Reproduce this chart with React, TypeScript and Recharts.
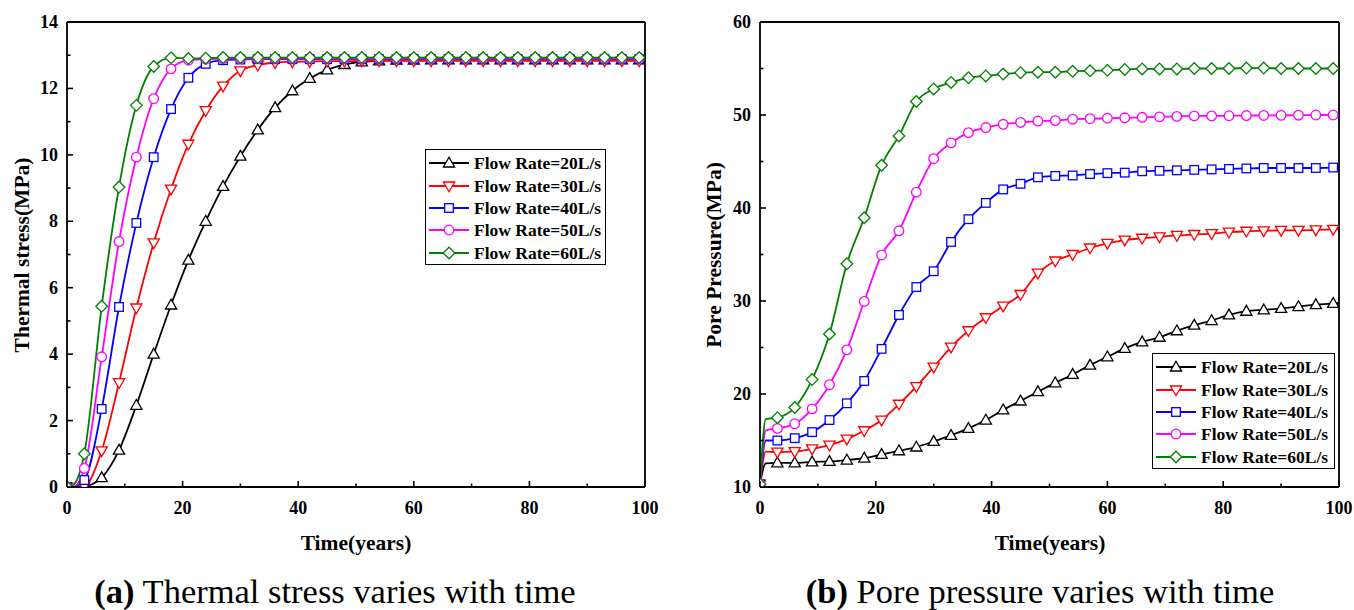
import React from 'react';
import { LineChart, Line, XAxis, YAxis, Legend } from 'recharts';

const FONT = '"Liberation Serif", "Times New Roman", Times, serif';

// ---- data ----
const years = [0, 1, 3, 6, 9, 12, 15, 18, 21, 24, 27, 30, 33, 36, 39, 42, 45, 48, 51, 54, 57, 60, 63, 66, 69, 72, 75, 78, 81, 84, 87, 90, 93, 96, 99, 100];

const seriesNames = ['Flow Rate=20L/s', 'Flow Rate=30L/s', 'Flow Rate=40L/s', 'Flow Rate=50L/s', 'Flow Rate=60L/s'];

// (a) Thermal stress (MPa)
const thermal20 = [0, 0, 0.02, 0.28, 1.11, 2.46, 4.0, 5.48, 6.83, 8.0, 9.05, 9.96, 10.75, 11.42, 11.93, 12.3, 12.56, 12.72, 12.8, 12.83, 12.85, 12.85, 12.86, 12.86, 12.86, 12.86, 12.86, 12.86, 12.86, 12.86, 12.86, 12.86, 12.86, 12.86, 12.86, 12.86];
const thermal30 = [0, 0, 0.03, 1.09, 3.14, 5.39, 7.35, 8.97, 10.32, 11.33, 12.07, 12.53, 12.7, 12.78, 12.8, 12.81, 12.82, 12.82, 12.83, 12.83, 12.83, 12.83, 12.83, 12.83, 12.83, 12.83, 12.83, 12.83, 12.83, 12.83, 12.83, 12.83, 12.83, 12.83, 12.83, 12.83];
const thermal40 = [0, 0, 0.21, 2.35, 5.42, 7.95, 9.93, 11.38, 12.32, 12.74, 12.85, 12.87, 12.88, 12.88, 12.88, 12.88, 12.88, 12.88, 12.88, 12.88, 12.88, 12.88, 12.88, 12.88, 12.88, 12.88, 12.88, 12.88, 12.88, 12.88, 12.88, 12.88, 12.88, 12.88, 12.88, 12.88];
const thermal50 = [0, 0, 0.56, 3.92, 7.39, 9.93, 11.69, 12.59, 12.85, 12.88, 12.9, 12.9, 12.9, 12.9, 12.9, 12.9, 12.9, 12.9, 12.9, 12.9, 12.9, 12.9, 12.9, 12.9, 12.9, 12.9, 12.9, 12.9, 12.9, 12.9, 12.9, 12.9, 12.9, 12.9, 12.9, 12.9];
const thermal60 = [0, 0.05, 1.0, 5.44, 9.03, 11.49, 12.66, 12.92, 12.9, 12.91, 12.93, 12.93, 12.93, 12.93, 12.93, 12.93, 12.93, 12.93, 12.93, 12.93, 12.93, 12.93, 12.93, 12.93, 12.93, 12.93, 12.93, 12.93, 12.93, 12.93, 12.93, 12.93, 12.93, 12.93, 12.93, 12.93];

// (b) Pore pressure (MPa)
const pore20 = [10.3, 12.55, 12.6, 12.6, 12.7, 12.75, 12.9, 13.1, 13.5, 13.9, 14.3, 14.9, 15.55, 16.3, 17.2, 18.3, 19.25, 20.25, 21.2, 22.1, 23.1, 24.0, 24.9, 25.6, 26.1, 26.8, 27.4, 27.9, 28.5, 28.9, 29.05, 29.2, 29.4, 29.6, 29.75, 29.8];
const pore30 = [10.3, 13.8, 13.75, 13.8, 14.1, 14.5, 15.15, 16.05, 17.2, 18.9, 20.8, 22.9, 25.05, 26.8, 28.2, 29.45, 30.7, 33.0, 34.3, 35.0, 35.7, 36.2, 36.55, 36.75, 36.9, 37.05, 37.15, 37.25, 37.4, 37.5, 37.55, 37.6, 37.6, 37.65, 37.7, 37.7];
const pore40 = [10.3, 15.0, 15.0, 15.25, 15.9, 17.2, 19.0, 21.4, 24.85, 28.5, 31.5, 33.2, 36.35, 38.8, 40.55, 42.0, 42.6, 43.3, 43.45, 43.5, 43.65, 43.75, 43.8, 43.95, 44.0, 44.05, 44.1, 44.15, 44.2, 44.25, 44.3, 44.3, 44.3, 44.3, 44.35, 44.35];
const pore50 = [10.3, 16.1, 16.3, 16.8, 18.4, 21.0, 24.75, 29.95, 34.95, 37.55, 41.7, 45.3, 47.0, 48.1, 48.65, 49.0, 49.2, 49.35, 49.4, 49.55, 49.6, 49.65, 49.7, 49.75, 49.8, 49.85, 49.9, 49.9, 49.92, 49.94, 49.95, 49.97, 49.98, 50.0, 50.0, 50.0];
const pore60 = [10.3, 17.3, 17.45, 18.55, 21.55, 26.45, 34.0, 38.95, 44.6, 47.75, 51.45, 52.8, 53.5, 54.0, 54.2, 54.4, 54.55, 54.6, 54.6, 54.7, 54.75, 54.8, 54.9, 54.95, 54.95, 54.95, 55.0, 55.0, 55.0, 55.05, 55.05, 55.0, 55.0, 55.0, 55.0, 55.0];

const xTicks = [0, 10, 20, 30, 40, 50, 60, 70, 80, 90, 100];
const thermalTicks = [0, 1, 2, 3, 4, 5, 6, 7, 8, 9, 10, 11, 12, 13, 14];
const poreTicks = [10, 15, 20, 25, 30, 35, 40, 45, 50, 55, 60];

const thermalData = years.map((year, i) => ({
  year,
  s20: thermal20[i], s30: thermal30[i], s40: thermal40[i], s50: thermal50[i], s60: thermal60[i],
}));
const poreData = years.map((year, i) => ({
  year,
  s20: pore20[i], s30: pore30[i], s40: pore40[i], s50: pore50[i], s60: pore60[i],
}));

const seriesKeys = ['s20', 's30', 's40', 's50', 's60'];
const seriesStyle = [
  { color: '#000000', shape: 'up' },
  { color: '#ff0000', shape: 'down' },
  { color: '#0000ff', shape: 'square' },
  { color: '#ff00ff', shape: 'circle' },
  { color: '#008000', shape: 'diamond' },
];

// ---- markers ----
function MarkerShape({ shape, cx, cy, color }: { shape: string; cx: number; cy: number; color: string }) {
  const common = { fill: '#ffffff', stroke: color, strokeWidth: 1.3 };
  switch (shape) {
    case 'up':
      return <polygon points={`${cx},${cy - 5.8} ${cx + 5.6},${cy + 4} ${cx - 5.6},${cy + 4}`} {...common} />;
    case 'down':
      return <polygon points={`${cx - 5.6},${cy - 4} ${cx + 5.6},${cy - 4} ${cx},${cy + 5.8}`} {...common} />;
    case 'square':
      return <rect x={cx - 4.3} y={cy - 4.3} width={8.6} height={8.6} {...common} />;
    case 'circle':
      return <circle cx={cx} cy={cy} r={4.8} {...common} />;
    default:
      return <polygon points={`${cx},${cy - 5.8} ${cx + 5.8},${cy} ${cx},${cy + 5.8} ${cx - 5.8},${cy}`} {...common} />;
  }
}

const makeDot = (shape: string, color: string) => (props: any) => {
  const { cx, cy, payload, index } = props;
  if (cx == null || cy == null || !payload || payload.year % 3 !== 0 || payload.year > 99) {
    return <g key={`d-${index}`} />;
  }
  return (
    <g key={`d-${index}`}>
      <MarkerShape shape={shape} cx={cx} cy={cy} color={color} />
    </g>
  );
};

// ---- ticks (inward, with minor ticks) ----
const makeXTick = (majorEvery: number) => (props: any) => {
  const { x, y, payload } = props;
  const v = payload.value;
  const major = v % majorEvery === 0;
  return (
    <g>
      <line x1={x} x2={x} y1={y} y2={y - (major ? 6 : 3.5)} stroke="#000" strokeWidth={1.6} />
      {major && (
        <text x={x} y={y + 27} textAnchor="middle" fontFamily={FONT} fontWeight="bold" fontSize={18} fill="#000">
          {v}
        </text>
      )}
    </g>
  );
};

const makeYTick = (majorEvery: number) => (props: any) => {
  const { x, y, payload } = props;
  const v = payload.value;
  const major = v % majorEvery === 0;
  return (
    <g>
      <line x1={x} x2={x + (major ? 6 : 3.5)} y1={y} y2={y} stroke="#000" strokeWidth={1.6} />
      {major && (
        <text x={x - 9} y={y + 6} textAnchor="end" fontFamily={FONT} fontWeight="bold" fontSize={18} fill="#000">
          {v}
        </text>
      )}
    </g>
  );
};

// ---- legend ----
function LegendBox() {
  return (
    <div
      style={{
        border: '1.5px solid #000',
        background: '#fff',
        padding: '2px 0 1px 0',
        boxSizing: 'border-box',
        width: '100%',
        height: '100%',
      }}
    >
      {seriesNames.map((name, i) => (
        <div key={name} style={{ display: 'flex', alignItems: 'center', height: 22.4 }}>
          <svg width={48} height={20} style={{ flex: '0 0 auto' }}>
            <line x1={3} x2={43} y1={10} y2={10} stroke={seriesStyle[i].color} strokeWidth={1.8} />
            <MarkerShape shape={seriesStyle[i].shape} cx={23} cy={10} color={seriesStyle[i].color} />
          </svg>
          <span
            style={{
              fontFamily: FONT,
              fontWeight: 'bold',
              fontSize: 17.5,
              color: '#000',
              whiteSpace: 'nowrap',
              lineHeight: '22px',
            }}
          >
            {name}
          </span>
        </div>
      ))}
    </div>
  );
}

function Panel({
  data, width, margin, yDomain, yTicks, yMajor, legendPos,
}: {
  data: any[]; width: number; margin: any; yDomain: [number, number]; yTicks: number[]; yMajor: number;
  legendPos: { left: number; top: number; width: number; height: number };
}) {
  const axisLine = { stroke: '#000', strokeWidth: 1.8 };
  return (
    <LineChart width={width} height={610} data={data} margin={margin}>
      <XAxis
        dataKey="year"
        type="number"
        domain={[0, 100]}
        ticks={xTicks}
        interval={0}
        height={1}
        tickSize={0}
        tickMargin={0}
        tickLine={false}
        axisLine={axisLine}
        tick={makeXTick(20)}
        allowDataOverflow
      />
      <XAxis
        xAxisId="top"
        orientation="top"
        dataKey="year"
        type="number"
        domain={[0, 100]}
        height={1}
        tick={false}
        tickLine={false}
        axisLine={axisLine}
      />
      <YAxis
        type="number"
        domain={yDomain}
        ticks={yTicks}
        interval={0}
        width={1}
        tickSize={0}
        tickMargin={0}
        tickLine={false}
        axisLine={axisLine}
        tick={makeYTick(yMajor)}
        allowDataOverflow
      />
      <YAxis
        yAxisId="right"
        orientation="right"
        type="number"
        domain={yDomain}
        width={1}
        tick={false}
        tickLine={false}
        axisLine={axisLine}
      />
      <Legend
        layout="horizontal"
        verticalAlign="middle"
        align="center"
        content={() => <LegendBox />}
        wrapperStyle={{ position: 'absolute', ...legendPos }}
      />
      {seriesKeys.map((k, i) => (
        <Line
          key={k}
          dataKey={k}
          name={seriesNames[i]}
          type="monotone"
          stroke={seriesStyle[i].color}
          strokeWidth={1.8}
          dot={makeDot(seriesStyle[i].shape, seriesStyle[i].color)}
          activeDot={false}
          isAnimationActive={false}
        />
      ))}
    </LineChart>
  );
}

export default function App() {
  const titleStyle = { fontFamily: FONT, fontWeight: 'bold' as const, fontSize: 21.5, fill: '#000' };
  const capStyle = { fontFamily: FONT, fontSize: 34.5, fill: '#000' };
  return (
    <div style={{ position: 'absolute', left: 0, top: 0, width: 1354, height: 610, background: '#fff', overflow: 'hidden' }}>
      <div style={{ position: 'absolute', left: 0, top: 0 }}>
        <Panel
          data={thermalData}
          width={680}
          margin={{ top: 21, right: 34, bottom: 122, left: 66 }}
          yDomain={[0, 14]}
          yTicks={thermalTicks}
          yMajor={2}
          legendPos={{ left: 425, top: 149, width: 181, height: 116 }}
        />
      </div>
      <div style={{ position: 'absolute', left: 680, top: 0 }}>
        <Panel
          data={poreData}
          width={674}
          margin={{ top: 21, right: 14, bottom: 122, left: 79 }}
          yDomain={[10, 60]}
          yTicks={poreTicks}
          yMajor={10}
          legendPos={{ left: 472, top: 353, width: 183, height: 116 }}
        />
      </div>
      <svg width={1354} height={610} style={{ position: 'absolute', left: 0, top: 0, pointerEvents: 'none' }}>
        <text x={356} y={550} textAnchor="middle" {...titleStyle}>Time(years)</text>
        <text x={1050} y={550} textAnchor="middle" {...titleStyle}>Time(years)</text>
        <text transform="translate(29,255) rotate(-90)" textAnchor="middle" {...titleStyle}>Thermal stress(MPa)</text>
        <text transform="translate(721,255) rotate(-90)" textAnchor="middle" {...titleStyle}>Pore Pressure(MPa)</text>
        <text x={335} y={603} textAnchor="middle" {...capStyle}>
          <tspan fontWeight="bold">(a)</tspan> Thermal stress varies with time
        </text>
        <text x={1040} y={603} textAnchor="middle" {...capStyle}>
          <tspan fontWeight="bold">(b)</tspan> Pore pressure varies with time
        </text>
      </svg>
    </div>
  );
}
